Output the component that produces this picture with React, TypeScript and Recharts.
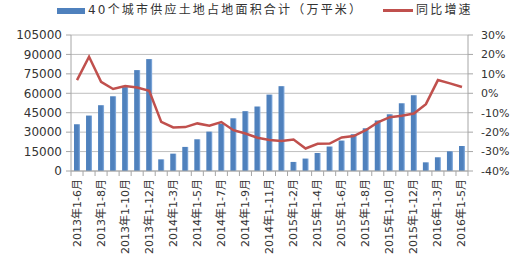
import React from "react";
import {
  ComposedChart,
  Bar,
  Line,
  XAxis,
  YAxis,
  CartesianGrid,
} from "recharts";

// 40个城市供应土地占地面积合计 vs 同比增速, 2013年1-6月 ~ 2016年1-5月
const categories = [
  "2013年1-6月", "2013年1-7月", "2013年1-8月", "2013年1-9月", "2013年1-10月", "2013年1-11月", "2013年1-12月",
  "2014年1-2月", "2014年1-3月", "2014年1-4月", "2014年1-5月", "2014年1-6月", "2014年1-7月", "2014年1-8月",
  "2014年1-9月", "2014年1-10月", "2014年1-11月", "2014年1-12月",
  "2015年1-2月", "2015年1-3月", "2015年1-4月", "2015年1-5月", "2015年1-6月", "2015年1-7月", "2015年1-8月",
  "2015年1-9月", "2015年1-10月", "2015年1-11月", "2015年1-12月",
  "2016年1-2月", "2016年1-3月", "2016年1-4月", "2016年1-5月",
];

// 万平米
const supplyArea = [
  36100, 42800, 50800, 57700, 64800, 77900, 86400,
  9000, 13400, 18600, 24500, 30400, 36500, 40700, 46200, 49800, 59000, 65500,
  7000, 9600, 13900, 18900, 23500, 28400, 33000, 39000, 43800, 52300, 58500,
  6700, 10600, 15200, 19300,
];

// %
const yoyGrowth = [
  6.8, 18.8, 5.9, 2.2, 3.7, 3.0, 1.3,
  -14.7, -17.6, -17.4, -15.5, -16.7, -14.8, -19.0, -20.7, -22.9, -24.0, -24.5,
  -23.8, -28.4, -26.0, -25.9, -22.7, -22.0, -19.0, -15.0, -12.3, -11.6, -10.4,
  -5.6, 6.8, 5.1, 3.2,
];

const leftTicks = [0, 15000, 30000, 45000, 60000, 75000, 90000, 105000];
const rightTicks = [-40, -30, -20, -10, 0, 10, 20, 30];

const BAR_COLOR = "#4F81BD";
const LINE_COLOR = "#C0504D";
const AXIS_COLOR = "#A6A6A6";
const GRID_COLOR = "#BFBFBF";
const TEXT_COLOR = "#333333";
const FONT = "'DejaVu Sans', 'Noto Sans CJK SC', sans-serif";

const data = categories.map((cat, i) => ({
  cat,
  supply: supplyArea[i],
  growth: yoyGrowth[i],
}));

function CategoryTick(props: any) {
  const { x, y, index, payload, width, visibleTicksCount } = props;
  const half = width && visibleTicksCount ? width / visibleTicksCount / 2 : 6;
  const isLast = index === categories.length - 1;
  return (
    <g>
      <line x1={x - half} x2={x - half} y1={y} y2={y + 5} stroke={AXIS_COLOR} />
      {isLast && <line x1={x + half} x2={x + half} y1={y} y2={y + 5} stroke={AXIS_COLOR} />}
      {index % 2 === 0 && (
        <text
          x={x}
          y={y + 8}
          transform={`rotate(-90, ${x}, ${y + 8})`}
          textAnchor="end"
          dominantBaseline="central"
          fontSize={11}
          fontFamily={FONT}
          fill={TEXT_COLOR}
        >
          {payload.value}
        </text>
      )}
    </g>
  );
}

function LegendBar() {
  const textStyle: React.CSSProperties = {
    position: "absolute",
    top: 1,
    fontSize: 12,
    letterSpacing: 2.2,
    fontFamily: FONT,
    color: TEXT_COLOR,
    whiteSpace: "nowrap",
    lineHeight: "18px",
  };
  return (
    <>
      <div style={{ position: "absolute", left: 57, top: 8, width: 28, height: 6, background: BAR_COLOR }} />
      <div style={{ ...textStyle, left: 88 }}>40个城市供应土地占地面积合计（万平米）</div>
      <div style={{ position: "absolute", left: 383, top: 8.5, width: 30, height: 3, background: LINE_COLOR }} />
      <div style={{ ...textStyle, left: 416 }}>同比增速</div>
    </>
  );
}

export default function App() {
  return (
    <div style={{ position: "absolute", left: 0, top: 0, width: 516, height: 254, background: "#fff" }}>
      <LegendBar />
      <ComposedChart
        width={516}
        height={254}
        data={data}
        margin={{ top: 35, right: 0, bottom: 0, left: 0 }}
        barCategoryGap="50%"
      >
        <defs>
          <linearGradient id="barFill" x1="0" y1="0" x2="1" y2="0">
            <stop offset="0%" stopColor={BAR_COLOR} />
            <stop offset="70%" stopColor={BAR_COLOR} />
            <stop offset="100%" stopColor="#8EB4E3" />
          </linearGradient>
        </defs>
        <CartesianGrid yAxisId="left" vertical={false} stroke={GRID_COLOR} />
        <XAxis
          dataKey="cat"
          interval={0}
          height={83}
          tickSize={0}
          tickMargin={0}
          tickLine={false}
          axisLine={{ stroke: AXIS_COLOR }}
          tick={<CategoryTick />}
        />
        <YAxis
          yAxisId="left"
          width={71}
          domain={[0, 105000]}
          ticks={leftTicks}
          interval={0}
          tickSize={5}
          tickMargin={4}
          axisLine={{ stroke: AXIS_COLOR }}
          tickLine={{ stroke: AXIS_COLOR }}
          tick={{ fontSize: 12, fontFamily: FONT, fill: TEXT_COLOR }}
        />
        <YAxis
          yAxisId="right"
          orientation="right"
          width={48}
          domain={[-40, 30]}
          ticks={rightTicks}
          interval={0}
          tickSize={5}
          tickMargin={8}
          axisLine={{ stroke: AXIS_COLOR }}
          tickLine={{ stroke: AXIS_COLOR }}
          tickFormatter={(v: number) => `${v}%`}
          tick={{ fontSize: 11, fontFamily: FONT, fill: TEXT_COLOR, textAnchor: "start" }}
        />
        <Bar yAxisId="left" dataKey="supply" fill="url(#barFill)" barSize={6} isAnimationActive={false} />
        <Line
          yAxisId="right"
          dataKey="growth"
          type="linear"
          stroke={LINE_COLOR}
          strokeWidth={2.5}
          dot={false}
          isAnimationActive={false}
        />
      </ComposedChart>
    </div>
  );
}
